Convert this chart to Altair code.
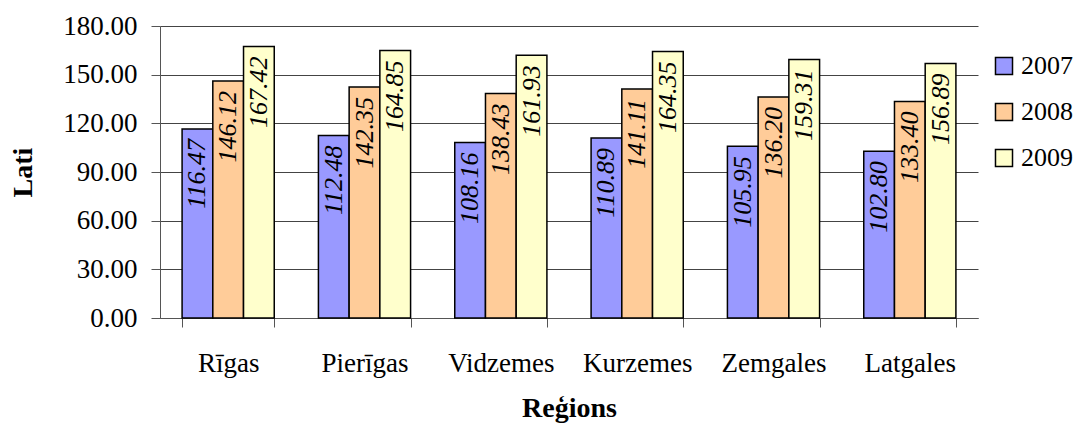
import altair as alt
import pandas as pd

regions = ["Rīgas", "Pierīgas", "Vidzemes", "Kurzemes", "Zemgales", "Latgales"]
years = ["2007", "2008", "2009"]
v2007 = [116.47, 112.48, 108.16, 110.89, 105.95, 102.80]
v2008 = [146.12, 142.35, 138.43, 141.11, 136.20, 133.40]
v2009 = [167.42, 164.85, 161.93, 164.35, 159.31, 156.89]
colors = ["#9999FF", "#FFCC99", "#FFFFCC"]

rows = []
for i, r in enumerate(regions):
    for y, vals in zip(years, [v2007, v2008, v2009]):
        rows.append({"Region": r, "Year": y, "Value": vals[i]})
df = pd.DataFrame(rows)

FONT = "Liberation Serif"

x = alt.X("Region:N", sort=regions,
          scale=alt.Scale(paddingInner=0.324, paddingOuter=0.162),
          axis=alt.Axis(title="Reģions", labelAngle=0, tickBand="extent",
                        labelPadding=23, titlePadding=18, tickSize=9,
                        domainColor="#555", tickColor="#555", grid=False))
xo = alt.XOffset("Year:N", sort=years)
y = alt.Y("Value:Q",
          scale=alt.Scale(domain=[0, 180], nice=False),
          axis=alt.Axis(title="Lati", values=[0, 30, 60, 90, 120, 150, 180],
                        format=".2f", tickSize=9, labelPadding=14, titlePadding=25,
                        gridColor="#444", domainColor="#555", tickColor="#555"))

bars = alt.Chart(df).mark_bar(stroke="black", strokeWidth=1.5).encode(
    x=x, xOffset=xo, y=y,
    color=alt.Color("Year:N", sort=years,
                    scale=alt.Scale(domain=years, range=colors),
                    legend=alt.Legend(title=None, symbolType="square", symbolSize=290,
                                      symbolStrokeColor="black", symbolStrokeWidth=1.5,
                                      labelFontSize=26, labelFont=FONT, labelColor="black",
                                      rowPadding=20, padding=0, labelOffset=4,
                                      orient="none", legendX=831, legendY=27)),
)

labels = alt.Chart(df).mark_text(angle=270, align="right", baseline="middle", dx=-10,
                                 font=FONT, fontStyle="italic", fontSize=26,
                                 color="black").encode(
    x=alt.X("Region:N", sort=regions), xOffset=xo, y="Value:Q",
    text=alt.Text("Value:Q", format=".2f"),
)

chart = (bars + labels).properties(
    width=818, height=292, background="white",
    autosize=alt.AutoSizeParams(type="none"),
    padding={"left": 152, "top": 18, "right": 100, "bottom": 107},
).configure_view(stroke=None).configure_axis(
    labelFont=FONT, titleFont=FONT, labelFontSize=27, titleFontSize=28,
    labelColor="black", titleColor="black", titleFontWeight="bold",
)

chart.save("out.html", embed_options={"renderer": "svg", "actions": False})
